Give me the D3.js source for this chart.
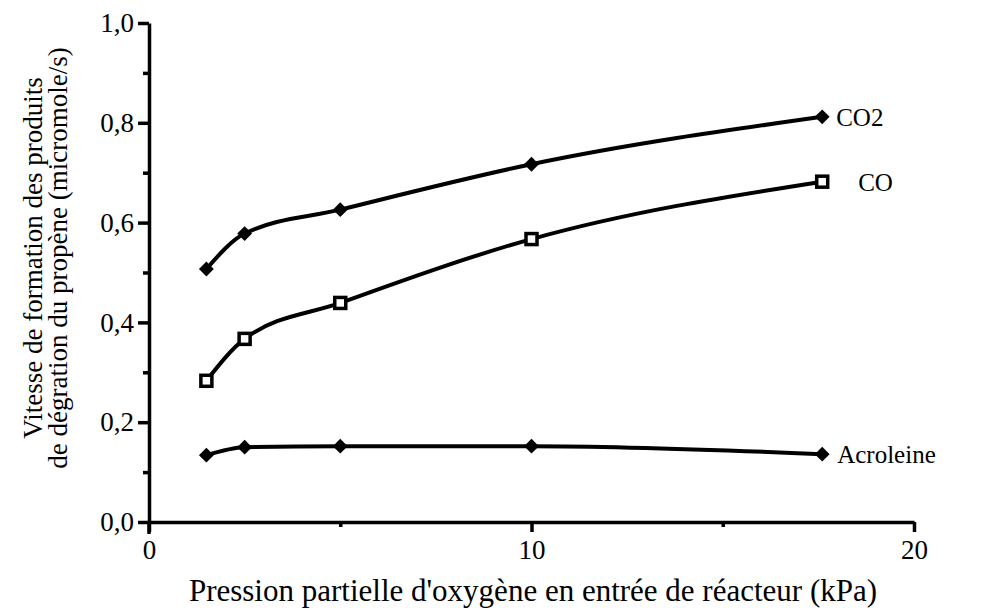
<!DOCTYPE html>
<html>
<head>
<meta charset="utf-8">
<script src="https://cdn.jsdelivr.net/npm/d3@7"></script>
<style>
  body { margin: 0; background: #fff; }
  text { font-family: "Liberation Serif", "DejaVu Serif", serif; fill: #000; }
</style>
</head>
<body>
<div id="chartdiv"></div>
<script>
// pression partielle d'oxygène (kPa)
var pression = [1.5, 2.5, 5, 10, 17.6];
var co2 = [0.507, 0.578, 0.626, 0.717, 0.812];
var co = [0.283, 0.367, 0.439, 0.567, 0.682];
var acroleine = [0.134, 0.150, 0.152, 0.152, 0.136];
var seriesNames = ["CO2", "CO", "Acroleine"];
var yTicks = [0, 0.2, 0.4, 0.6, 0.8, 1.0];
var xTicks = [0, 10, 20];

var width = 984, height = 610;
var margin = {top: 23, left: 149, right: 70, bottom: 88};

var svg = d3.select("#chartdiv").append("svg")
  .attr("width", width)
  .attr("height", height);

var x = d3.scaleLinear().domain([0, 20]).range([margin.left, width - margin.right]);
var y = d3.scaleLinear().domain([0, 1]).range([height - margin.bottom, margin.top]);

var fmt = function(d) { return d3.format(".1f")(d).replace(".", ","); };

// y axis: major + minor ticks
svg.append("g")
  .attr("transform", "translate(" + x(0) + ",0)")
  .call(d3.axisLeft(y).tickValues(yTicks).tickFormat(fmt).tickSize(11).tickSizeOuter(0).tickPadding(4));
svg.append("g")
  .attr("transform", "translate(" + x(0) + ",0)")
  .call(d3.axisLeft(y).tickValues(d3.range(0.1, 1, 0.2)).tickFormat("").tickSize(6).tickSizeOuter(0))
  .select(".domain").remove();

// x axis
svg.append("g")
  .attr("transform", "translate(0," + y(0) + ")")
  .call(d3.axisBottom(x).tickValues(xTicks).tickFormat(d3.format("d")).tickSize(10).tickSizeOuter(0).tickPadding(8));
svg.append("g")
  .attr("transform", "translate(0," + y(0) + ")")
  .call(d3.axisBottom(x).tickValues([5, 15]).tickFormat("").tickSize(5).tickSizeOuter(0))
  .select(".domain").remove();

svg.selectAll(".domain, .tick line")
  .attr("stroke", "#000")
  .attr("stroke-width", 3.5);
svg.selectAll(".tick text")
  .attr("font-size", "27px")
  .attr("font-family", "Liberation Serif, serif");

// y axis extends a little below the x axis
svg.append("line")
  .attr("x1", x(0)).attr("x2", x(0))
  .attr("y1", y(0)).attr("y2", y(0) + 12)
  .attr("stroke", "#000").attr("stroke-width", 3.5);

var series = [co2, co, acroleine];
var line = d3.line()
  .x(function(d, i) { return x(pression[i]); })
  .y(function(d) { return y(d); })
  .curve(d3.curveMonotoneX);

series.forEach(function(vals) {
  svg.append("path")
    .datum(vals)
    .attr("d", line)
    .attr("fill", "none")
    .attr("stroke", "#000")
    .attr("stroke-width", 4);
});

// markers
var diamond = d3.symbol().type(d3.symbolDiamond2).size(140);
[co2, acroleine].forEach(function(vals) {
  svg.selectAll(null)
    .data(vals)
    .enter().append("path")
    .attr("d", diamond)
    .attr("transform", function(d, i) { return "translate(" + x(pression[i]) + "," + y(d) + ")"; })
    .attr("fill", "#000");
});
svg.selectAll(null)
  .data(co)
  .enter().append("rect")
  .attr("x", function(d, i) { return x(pression[i]) - 5.5; })
  .attr("y", function(d) { return y(d) - 5.5; })
  .attr("width", 11)
  .attr("height", 11)
  .attr("fill", "#fff")
  .attr("stroke", "#000")
  .attr("stroke-width", 3.5);

// series labels
var labelPos = [{dx: 14, dy: 9}, {dx: 36, dy: 9}, {dx: 15, dy: 9}];
series.forEach(function(vals, k) {
  var last = vals.length - 1;
  svg.append("text")
    .attr("x", x(pression[last]) + labelPos[k].dx)
    .attr("y", y(vals[last]) + labelPos[k].dy)
    .attr("font-size", "25px")
    .text(seriesNames[k]);
});

// axis titles
svg.append("text")
  .attr("x", 533)
  .attr("y", 601)
  .attr("text-anchor", "middle")
  .attr("font-size", "31px")
  .text("Pression partielle d'oxygène en entrée de réacteur (kPa)");

var yt = svg.append("text")
  .attr("transform", "translate(42,258) rotate(-90)")
  .attr("text-anchor", "middle")
  .attr("font-size", "27px");
yt.append("tspan").attr("x", 0).attr("dy", 0).text("Vitesse de formation des produits");
yt.append("tspan").attr("x", 0).attr("dy", 25).text("de dégration du propène (micromole/s)");
</script>
</body>
</html>
